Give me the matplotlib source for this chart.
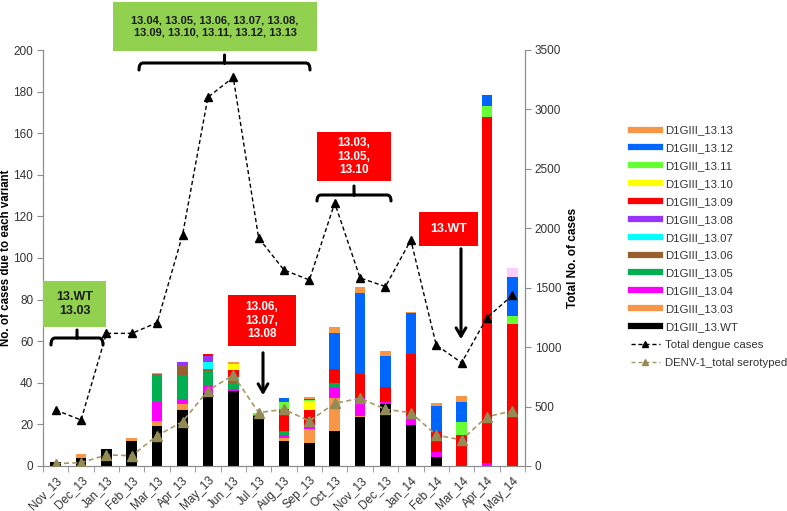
import matplotlib
matplotlib.use("Agg")
import matplotlib.pyplot as plt
import numpy as np
from matplotlib.transforms import Affine2D
from matplotlib.patches import Rectangle, PathPatch
from matplotlib.path import Path
from matplotlib.lines import Line2D

plt.rcParams['font.family'] = ['Liberation Sans', 'DejaVu Sans']

categories = ["Nov_13", "Dec_13", "Jan_13", "Feb_13", "Mar_13", "Apr_13", "May_13", "Jun_13",
              "Jul_13", "Aug_13", "Sep_13", "Oct_13", "Nov_13", "Dec_13", "Jan_14", "Feb_14",
              "Mar_14", "Apr_14", "May_14"]

v_wt   = [2, 4, 8, 12, 19, 27, 35, 36, 24, 12, 11, 17, 23.4, 30, 19.7, 4.2, 0, 0, 0]
v_1303 = [0, 2, 0, 1.5, 2.8, 2.8, 0, 0, 0, 1.5, 6.8, 15.5, 0.6, 0, 0, 0, 0, 0, 0]
v_1304 = [0, 0, 0, 0, 9.2, 2.2, 4, 1, 0.7, 1.3, 1.2, 5.3, 8.8, 0.9, 4.3, 2.7, 0, 1.3, 0]
v_1305 = [0, 0, 0, 0, 12.8, 11.8, 6.3, 3, 0, 1.9, 0.6, 2, 0, 0, 0, 0, 0, 0, 0]
v_1306 = [0, 0, 0, 0, 0.6, 4.8, 1.2, 1.0, 0, 0, 0, 0, 0, 0, 0, 0, 0, 0, 0]
v_1307 = [0, 0, 0, 0, 0.3, 0, 3.6, 1.6, 0, 0, 0, 0, 0, 0, 0, 0, 0, 0, 0]
v_1308 = [0, 0, 0, 0, 0, 1.4, 2.9, 0, 0, 0, 0, 0, 0, 0, 0, 0, 0, 0, 0]
v_1309 = [0, 0, 0, 0, 0, 0, 0.7, 3.4, 0, 10.7, 7.4, 7, 11.2, 7.1, 29.8, 9.9, 14.9, 166.7, 68.3]
v_1310 = [0, 0, 0, 0, 0, 0, 0, 2.9, 0, 0, 4.3, 0, 0, 0, 0, 0, 0, 0, 0]
v_1311 = [0, 0, 0, 0, 0, 0, 0, 0, 0.8, 3.4, 0.6, 0, 0, 0, 0, 0, 6.1, 5, 4]
v_1312 = [0, 0, 0, 0, 0, 0, 0, 0, 0, 2.1, 0.5, 17.2, 39.3, 14.8, 19.6, 12.2, 9.9, 5.4, 18.7]
v_1313 = [0, 0, 0, 0, 0, 0, 0, 1.1, 0, 0, 0.6, 2.9, 2.9, 2.4, 0.8, 1.1, 2.9, 0, 0]
v_other = [0, 0, 0, 0, 0, 0, 0, 0, 0, 0, 0, 0, 0, 0, 0, 0, 0, 0, 4]

total_dengue = [471, 387, 1116, 1116, 1206, 1943, 3102, 3270, 1918, 1649, 1565, 2213,
                1582, 1510, 1901, 1018, 869, 1248, 1436]
denv1_serotyped = [20, 28, 93, 87, 255, 373, 634, 766, 449, 477, 379, 527,
                   570, 477, 449, 261, 219, 415, 463]

series = [
    ("D1GIII_13.WT", v_wt, "#000000"),
    ("D1GIII_13.03", v_1303, "#F79646"),
    ("D1GIII_13.04", v_1304, "#FF00FF"),
    ("D1GIII_13.05", v_1305, "#00B050"),
    ("D1GIII_13.06", v_1306, "#98602E"),
    ("D1GIII_13.07", v_1307, "#00FFFF"),
    ("D1GIII_13.08", v_1308, "#9933FF"),
    ("D1GIII_13.09", v_1309, "#FF0000"),
    ("D1GIII_13.10", v_1310, "#FFFF00"),
    ("D1GIII_13.11", v_1311, "#66FF33"),
    ("D1GIII_13.12", v_1312, "#0066FF"),
    ("D1GIII_13.13", v_1313, "#F79646"),
    ("_other", v_other, "#FFCCFF"),
]

W, H = 787, 511
fig = plt.figure(figsize=(W / 100, H / 100), dpi=100)
ax = fig.add_axes([43 / W, 1 - 466 / H, (525 - 43) / W, (466 - 50) / H])
ax2 = ax.twinx()

x = np.arange(len(categories))
bottom = np.zeros(len(categories))
for name, vals, col in series:
    vals = np.array(vals, dtype=float)
    ax.bar(x, vals, 0.42, bottom=bottom, color=col, edgecolor='none', zorder=2)
    bottom += vals

ax.set_xlim(-0.5, len(categories) - 0.5)
ax.set_ylim(0, 200)
ax.set_yticks(np.arange(0, 201, 20))
ax2.set_ylim(0, 3500)
ax2.set_yticks(np.arange(0, 3501, 500))

ax2.plot(x, total_dengue, linestyle=(0, (3, 2)), color='#000000', lw=1,
         marker='^', markersize=6, zorder=5)
ax2.plot(x, denv1_serotyped, linestyle=(0, (3, 2)), color='#A39A68', lw=1.2,
         marker='^', markersize=7, markerfacecolor='#948A54', markeredgecolor='#948A54', zorder=4)

for a in (ax, ax2):
    a.spines['top'].set_visible(False)
    for s in ('left', 'right', 'bottom'):
        a.spines[s].set_color('#8c8c8c')
    a.tick_params(axis='y', colors='#8c8c8c', labelcolor='#333333', labelsize=8.5, length=4, pad=3)

ax.set_xticks(x)
ax.set_xticklabels(categories, rotation=45, ha='right', rotation_mode='anchor', fontsize=8.5, color='#333333')
ax.set_xticks(np.arange(-0.5, len(categories), 1), minor=True)
ax.tick_params(axis='x', which='major', length=0, pad=6)
ax.tick_params(axis='x', which='minor', length=4, color='#8c8c8c')

ax.set_ylabel("No. of cases due to each variant", fontsize=8.3, fontweight='bold')
ax.yaxis.set_label_coords(-0.064, 0.5)
ax2.set_ylabel("Total No. of cases", fontsize=8.5, fontweight='bold', labelpad=4)

# pixel transform (top-left origin)
T = Affine2D().scale(1 / W, -1 / H).translate(0, 1) + fig.transFigure


def box(x0, y0, x1, y1, color, text, tcolor, fs):
    fig.patches.append(Rectangle((x0, y0), x1 - x0, y1 - y0, transform=T, facecolor=color,
                                 edgecolor='none', zorder=10))
    fig.text((x0 + x1) / 2, (y0 + y1) / 2, text, transform=T, ha='center', va='center',
             color=tcolor, fontsize=fs, fontweight='bold', zorder=11, linespacing=1.15)


def brace(x0, x1, y, drop=7, nub=8, r=4):
    xm = (x0 + x1) / 2
    verts = [(x0, y + drop), (x0, y), (x0 + r, y), (xm - r, y), (xm, y), (xm, y - nub),
             (xm, y), (xm + r, y), (x1 - r, y), (x1, y), (x1, y + drop)]
    codes = [Path.MOVETO, Path.CURVE3, Path.CURVE3, Path.LINETO, Path.LINETO, Path.LINETO,
             Path.MOVETO, Path.LINETO, Path.LINETO, Path.CURVE3, Path.CURVE3]
    p = PathPatch(Path(verts, codes), transform=T, facecolor='none', edgecolor='black',
                  lw=2.2, zorder=10, capstyle='round', joinstyle='round')
    fig.patches.append(p)


def arrow(xp, y0, y1):
    ax.annotate('', xy=(xp, y1), xycoords=T, xytext=(xp, y0), textcoords=T,
                arrowprops=dict(arrowstyle='->,head_length=0.6,head_width=0.35', lw=2.2,
                                color='black'), zorder=12)


green = '#92D050'
red = '#FF0000'
box(113, 2, 317, 51, green, "13.04, 13.05, 13.06, 13.07, 13.08,\n13.09, 13.10, 13.11, 13.12, 13.13", '#1a1a1a', 8)
brace(139, 310, 63, drop=7, nub=8)
box(43, 281, 106, 327, green, "13.WT\n13.03", '#1a1a1a', 9)
brace(51, 103, 338, drop=7, nub=8)
box(317, 132, 391, 181, red, "13.03,\n13.05,\n13.10", 'white', 8.5)
brace(317, 391, 195, drop=6, nub=9)
box(228, 295, 296, 346, red, "13.06,\n13.07,\n13.08", 'white', 8.5)
arrow(263, 350, 398)
box(419, 212, 478, 246, red, "13.WT", 'white', 9)
arrow(461, 246, 342)

# legend
handles = []
labels = []
for name, vals, col in reversed(series):
    if name.startswith('_'):
        continue
    handles.append(Line2D([0], [0], color=col, lw=4.5))
    labels.append(name)
handles.append(Line2D([0], [0], color='black', lw=1, linestyle=(0, (3, 2)), marker='^', markersize=5))
labels.append("Total dengue cases")
handles.append(Line2D([0], [0], color='#A39A68', lw=1, linestyle=(0, (3, 2)), marker='^', markersize=5,
                      markerfacecolor='#948A54', markeredgecolor='#948A54'))
labels.append("DENV-1_total serotyped")
leg = fig.legend(handles, labels, loc='upper left', bbox_to_anchor=(626 / W, 1 - 121 / H),
                 frameon=False, fontsize=8.2, labelspacing=0.69, handlelength=2.6,
                 handletextpad=0.4, borderaxespad=0)
for t in leg.get_texts():
    t.set_color('#333333')

fig.savefig("out.png", dpi=100)
